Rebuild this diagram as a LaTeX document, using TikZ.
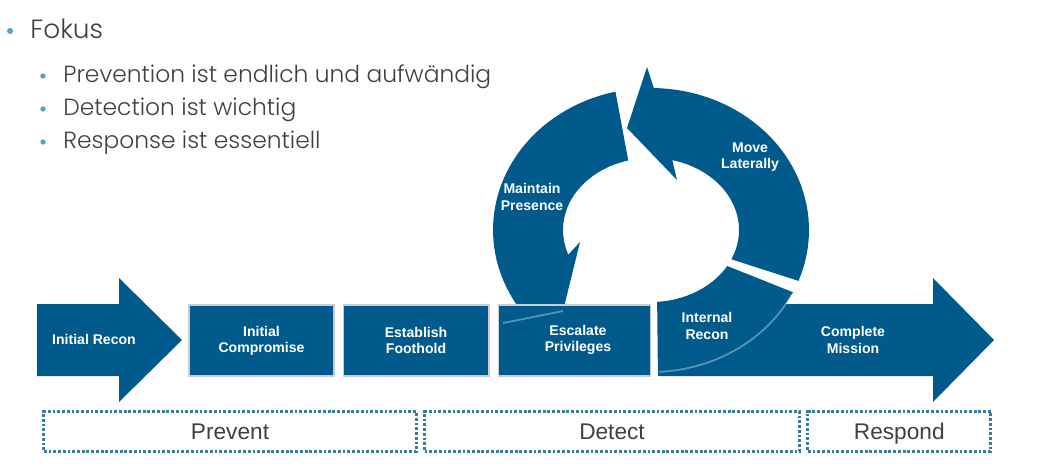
\documentclass[tikz,border=0pt]{standalone}
\usepackage{fontspec}
\setmainfont{Liberation Sans}
\newfontfamily\slidefont{Poppins}[UprightFont=* Light]
\usetikzlibrary{positioning}
\definecolor{cycblue}{RGB}{0,90,140}
\definecolor{dotblue}{RGB}{58,122,154}
\definecolor{bulblue}{RGB}{75,163,217}
\definecolor{txtgray}{RGB}{64,64,64}

\begin{document}
\begin{tikzpicture}[x=0.02cm,y=-0.02cm,
    box node/.style={rectangle,fill=cycblue,draw=gray!40,line width=0.6pt,
                     minimum height=1.42cm,inner sep=0pt},
    label node/.style={text=white,font=\bfseries\fontsize{8}{9.2}\selectfont,align=center},
    phase node/.style={rectangle,draw=dotblue,line width=1.9pt,dash pattern=on 1.6pt off 1.1pt,
                       minimum height=0.8cm,text height=11.2pt,text depth=2.6pt,
                       font=\fontsize{12.9}{14}\selectfont,text=txtgray},
    item node/.style={anchor=base west,inner sep=0pt,text=txtgray,
                      font=\slidefont\fontsize{13.3}{16}\selectfont},
    dot node/.style={circle,fill=bulblue,inner sep=0pt,minimum size=3pt}]

\useasboundingbox (0,0) rectangle (1040,474);

% bullet list
\node[dot node,minimum size=3.4pt] (b0) at (10,31) {};
\node[item node,font=\slidefont\fontsize{15}{17}\selectfont] (fokus) at (30,38) {Fokus};
\node[dot node] (b1) at (43,76) {};
\node[dot node] (b2) at (43,109) {};
\node[dot node] (b3) at (43,142) {};
\node[item node] (itemprev) at (63,82) {Prevention ist endlich und aufwändig};
\node[item node] (itemdet) at (63,115) {Detection ist wichtig};
\node[item node] (itemresp) at (63,148) {Response ist essentiell};

% cycle
\fill[cycblue] plot[domain=103:212,samples=40] ({651+158*cos(\x)},{230-142*sin(\x)})
    -- (503,323) -- (563,311) -- (580,242)
    -- plot[domain=200:105,samples=40] ({651+88*cos(\x)},{230-72*sin(\x)}) -- cycle;
\fill[cycblue] plot[domain=-21:89,samples=40] ({651+158*cos(\x)},{230-142*sin(\x)})
    -- (647,67) -- (627,128) -- (677,180)
    -- plot[domain=76:-24,samples=40] ({651+88*cos(\x)},{230-72*sin(\x)}) -- cycle;
\fill[cycblue] plot[domain=-26:-87.5,samples=40] ({651+158*cos(\x)},{230-142*sin(\x)})
    -- plot[domain=-86:-30,samples=40] ({651+88*cos(\x)},{230-72*sin(\x)}) -- cycle;

% kill chain
\fill[cycblue] (37,304) -- (119,304) -- (119,278) -- (182,340) -- (119,402) -- (119,376)
    -- (37,376) -- cycle;
\fill[cycblue] (658,304) -- (933,304) -- (933,278) -- (994,340) -- (933,402) -- (933,376)
    -- (658,376) -- cycle;

\node[box node,minimum width=2.9cm] (icomp) at (261.5,340.5) {};
\node[box node,minimum width=2.92cm,right=0.16cm of icomp] (efoot) {};
\node[box node,minimum width=3.04cm,right=0.16cm of efoot] (escal) {};

\draw[white,opacity=.35,line width=1pt] (503,323) -- (563,311);
\draw[white,opacity=.35,line width=1pt]
    plot[domain=-27:-87,samples=30] ({651+158*cos(\x)},{230-142*sin(\x)});

\node[label node] (irecon) at (94,339) {Initial Recon};
\node[label node] at (icomp) {Initial\\Compromise};
\node[label node] at (efoot) {Establish\\Foothold};
\node[label node] (esclab) at (578,340) {Escalate\\Privileges};
\node[label node] (intrec) at (707,326) {Internal\\Recon};
\node[label node] (cmiss) at (853,340) {Complete\\Mission};
\node[label node] (maint) at (532,197) {Maintain\\Presence};
\node[label node] (movlat) at (750,157) {Move\\Laterally};

% phases
\node[phase node,minimum width=7.45cm] (prevent) at (230,431.5) {Prevent};
\node[phase node,minimum width=7.5cm,right=0.1cm of prevent] (detect) {Detect};
\node[phase node,minimum width=3.66cm,right=0.1cm of detect] (respond) {Respond};
\end{tikzpicture}
\end{document}
